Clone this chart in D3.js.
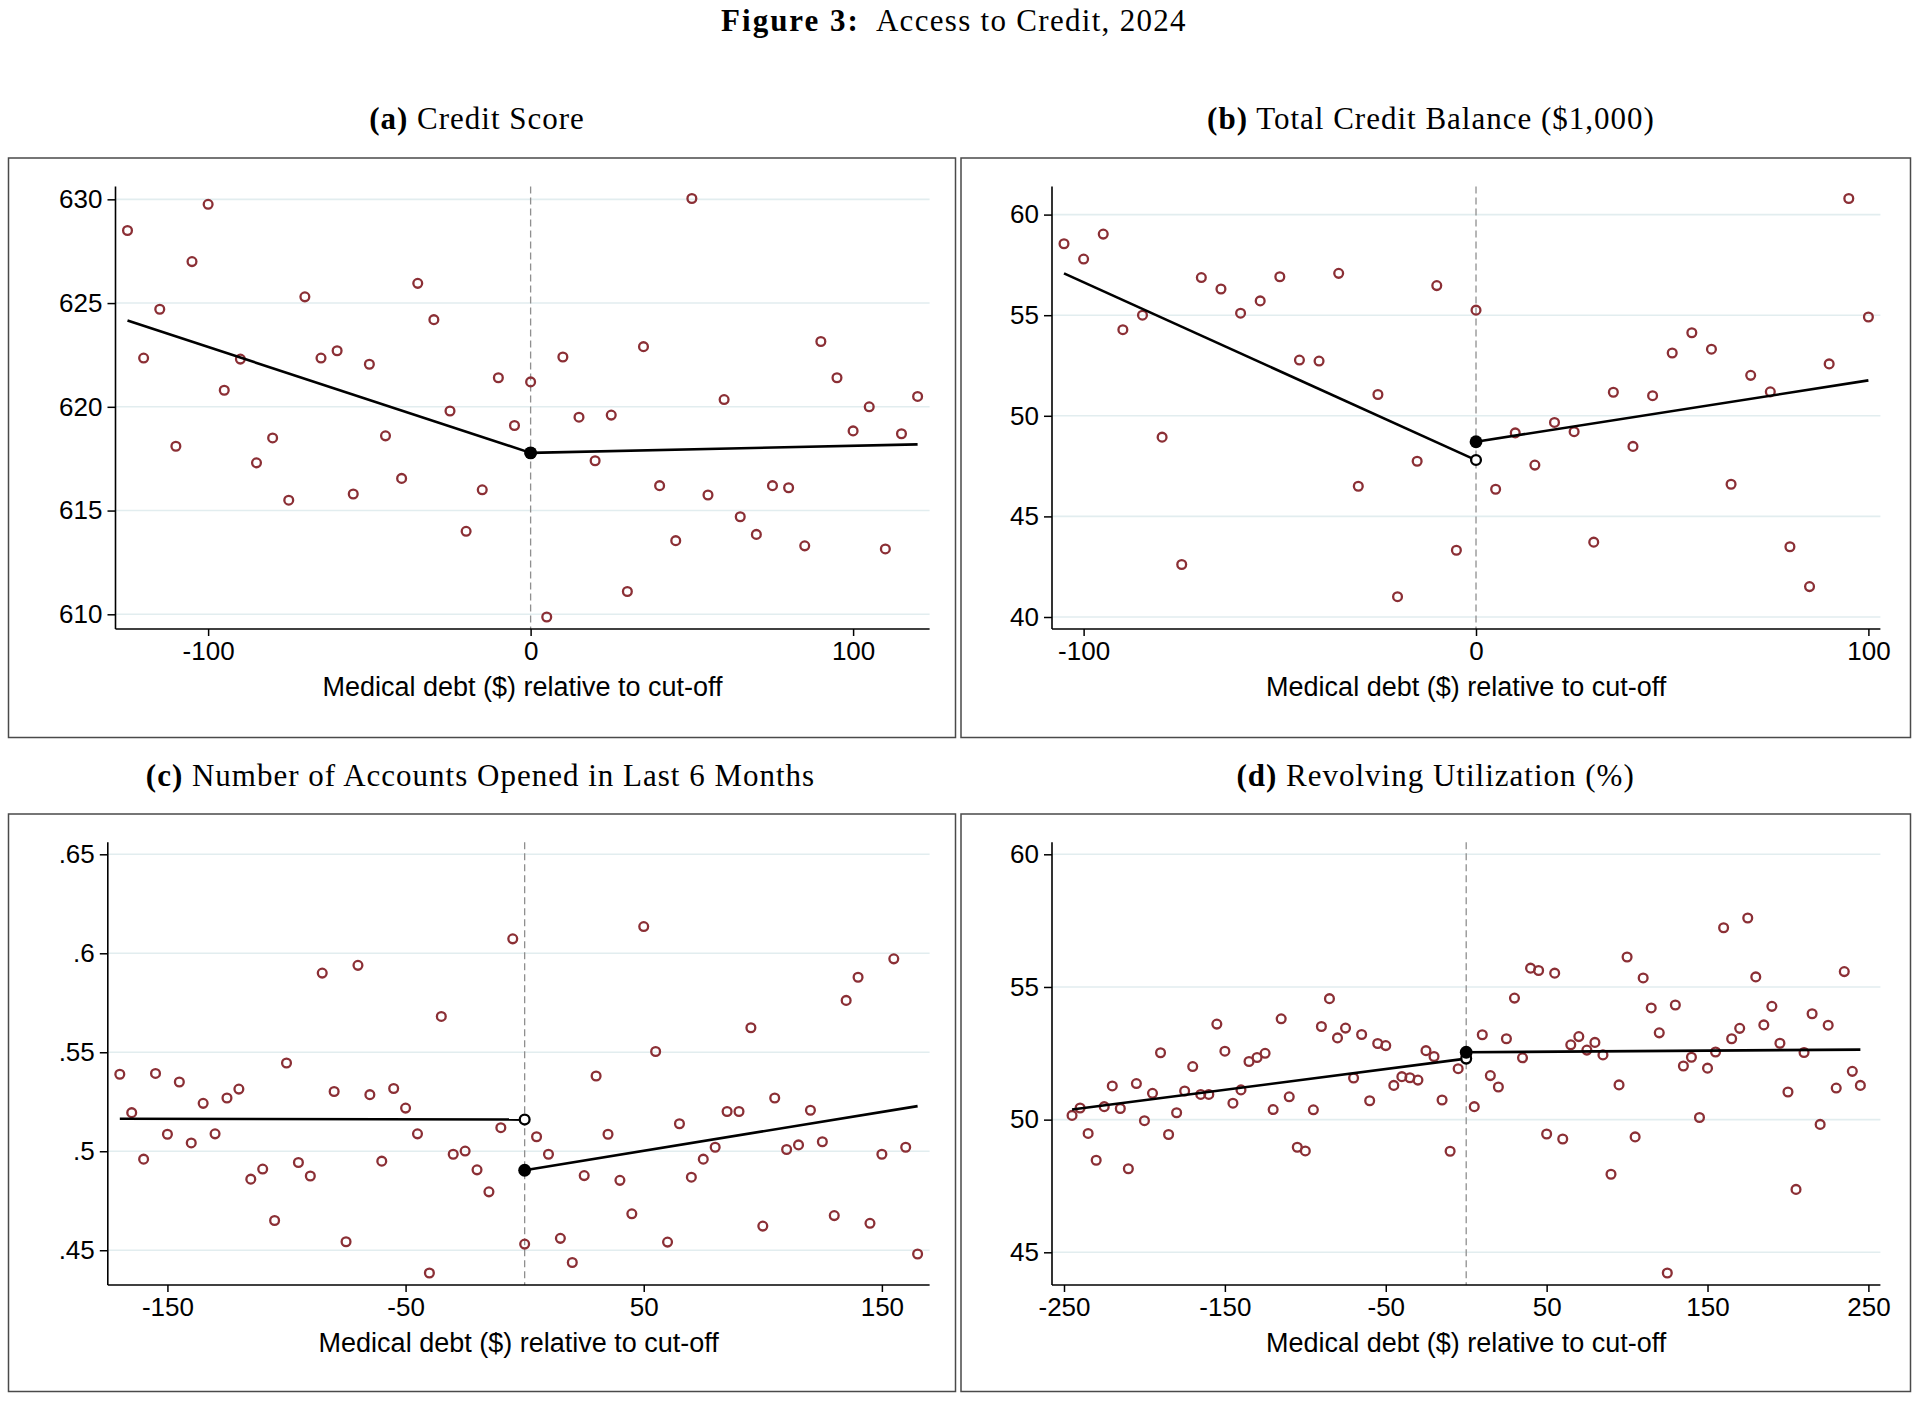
<!DOCTYPE html>
<html>
<head>
<meta charset="utf-8">
<script src="https://cdn.jsdelivr.net/npm/d3@7"></script>
<style>
  body { margin: 0; background: #fff; }
  svg { display: block; }
</style>
</head>
<body>
<div id="container"></div>
<script>
  // ---- data ----
  // (a) credit score
  const binsA = [-125, -120, -115, -110, -105, -100, -95, -90, -85, -80, -75, -70, -65, -60, -55, -50, -45, -40, -35, -30, -25, -20, -15, -10, -5,
    0, 5, 10, 15, 20, 25, 30, 35, 40, 45, 50, 55, 60, 65, 70, 75, 80, 85, 90, 95, 100, 105, 110, 115, 120];
  const scoreA = [628.5, 622.35, 624.7, 618.1, 627.0, 629.76, 620.8, 622.3, 617.3, 618.5, 615.5, 625.3, 622.35, 622.7, 615.8, 622.05, 618.6, 616.55, 625.95, 624.2, 619.8, 614.0, 616.0, 621.4, 619.1,
    621.2, 609.87, 622.4, 619.5, 617.4, 619.6, 611.1, 622.9, 616.2, 613.55, 630.04, 615.75, 620.35, 614.7, 613.85, 616.2, 616.1, 613.3, 623.15, 621.4, 618.84, 620.0, 613.15, 618.7, 620.5];
  const fitA = { left: [[-125, 624.16], [0, 617.78]], right: [[0, 617.78], [120, 618.19]] };
  const xTicksA = [-100, 0, 100];
  const yTicksA = [610, 615, 620, 625, 630];

  // (b) total credit balance ($1,000)
  const binsB = [-105, -100, -95, -90, -85, -80, -75, -70, -65, -60, -55, -50, -45, -40, -35, -30, -25, -20, -15, -10, -5,
    0, 5, 10, 15, 20, 25, 30, 35, 40, 45, 50, 55, 60, 65, 70, 75, 80, 85, 90, 95, 100];
  const balanceB = [58.55, 57.79, 59.03, 54.28, 55.0, 48.94, 42.61, 56.87, 56.3, 55.1, 55.71, 56.91, 52.77, 52.72, 57.08, 46.5, 51.06, 41.01, 47.74, 56.47, 43.32,
    55.25, 46.35, 49.15, 47.55, 49.67, 49.21, 43.72, 51.17, 48.48, 51.0, 53.12, 54.13, 53.31, 46.6, 52.01, 51.19, 43.49, 41.51, 52.58, 60.8, 54.91];
  const fitB = { left: [[-105, 57.08], [0, 47.8]], right: [[0, 48.71], [100, 51.76]] };
  const xTicksB = [-100, 0, 100];
  const yTicksB = [40, 45, 50, 55, 60];

  // (c) number of accounts opened in last 6 months
  const binsC = [-170, -165, -160, -155, -150, -145, -140, -135, -130, -125, -120, -115, -110, -105, -100, -95, -90, -85, -80, -75, -70, -65, -60, -55, -50, -45, -40, -35, -30, -25, -20, -15, -10, -5,
    0, 5, 10, 15, 20, 25, 30, 35, 40, 45, 50, 55, 60, 65, 70, 75, 80, 85, 90, 95, 100, 105, 110, 115, 120, 125, 130, 135, 140, 145, 150, 155, 160, 165];
  const accountsC = [0.5389, 0.5195, 0.4960, 0.5393, 0.5086, 0.5350, 0.5042, 0.5242, 0.5088, 0.5269, 0.5314, 0.4859, 0.4910, 0.4650, 0.5446, 0.4943, 0.4875, 0.5900, 0.5302, 0.4543, 0.5939, 0.5286, 0.4950, 0.5317, 0.5218, 0.5088, 0.4385, 0.5681, 0.4985, 0.5001, 0.4906, 0.4795, 0.5119, 0.6073,
    0.4531, 0.5073, 0.4985, 0.4560, 0.4438, 0.4877, 0.5380, 0.5086, 0.4853, 0.4684, 0.6135, 0.5504, 0.4541, 0.5139, 0.4869, 0.4960, 0.5020, 0.5201, 0.5201, 0.5624, 0.4622, 0.5269, 0.5009, 0.5032, 0.5207, 0.5048, 0.4675, 0.5762, 0.5879, 0.4636, 0.4985, 0.5972, 0.5020, 0.4481];
  const fitC = { left: [[-170, 0.5164], [0, 0.516]], right: [[0, 0.4904], [165, 0.5228]] };
  const xTicksC = [-150, -50, 50, 150];
  const yTicksC = [0.45, 0.5, 0.55, 0.6, 0.65];

  // (d) revolving utilization (%)
  const binsD = [-245, -240, -235, -230, -225, -220, -215, -210, -205, -200, -195, -190, -185, -180, -175, -170, -165, -160, -155, -150,
    -145, -140, -135, -130, -125, -120, -115, -110, -105, -100, -95, -90, -85, -80, -75, -70, -65, -60, -55, -50,
    -45, -40, -35, -30, -25, -20, -15, -10, -5,
    0, 5, 10, 15, 20, 25, 30, 35, 40, 45, 50, 55, 60, 65, 70, 75, 80, 85, 90, 95, 100,
    105, 110, 115, 120, 125, 130, 135, 140, 145, 150, 155, 160, 165, 170, 175, 180, 185, 190, 195, 200,
    205, 210, 215, 220, 225, 230, 235, 240, 245];
  const utilD = [50.16, 50.44, 49.48, 48.47, 50.49, 51.27, 50.42, 48.15, 51.36, 49.96, 50.99, 52.52, 49.44, 50.26, 51.08, 52.0, 50.95, 50.95, 53.6, 52.58,
    50.62, 51.12, 52.19, 52.34, 52.5, 50.38, 53.8, 50.86, 48.96, 48.82, 50.37, 53.51, 54.56, 53.08, 53.45, 51.57, 53.21, 50.71, 52.87, 52.79,
    51.29, 51.62, 51.58, 51.49, 52.6, 52.38, 50.74, 48.81, 51.92,
    52.4, 50.49, 53.2, 51.66, 51.23, 53.05, 54.58, 52.33, 55.71, 55.62, 49.46, 55.52, 49.27, 52.82, 53.13, 52.62, 52.91, 52.44, 47.94, 51.31, 56.13,
    49.35, 55.34, 54.21, 53.27, 44.22, 54.32, 52.02, 52.35, 50.08, 51.94, 52.55, 57.23, 53.05, 53.44, 57.6, 55.38, 53.57, 54.27, 52.88, 51.04,
    47.37, 52.53, 53.99, 49.82, 53.56, 51.19, 55.58, 51.82, 51.29];
  const fitD = { left: [[-245, 50.38], [0, 52.3]], right: [[0, 52.54], [245, 52.64]] };
  const xTicksD = [-250, -150, -50, 50, 150, 250];
  const yTicksD = [45, 50, 55, 60];

  const panelTitles = ["Credit Score", "Total Credit Balance ($1,000)", "Number of Accounts Opened in Last 6 Months", "Revolving Utilization (%)"];
  const xTitle = "Medical debt ($) relative to cut-off";

  // ---- layout ----
  const serif = "'Liberation Serif', 'Times New Roman', serif";
  const sans = "'Liberation Sans', Arial, Helvetica, sans-serif";
  const dotColor = "#8b2f35";
  const pad = 12; // stata keeps ~12px between data and plot edge

  const panels = [
    { label: "(a)", title: panelTitles[0], bins: binsA, values: scoreA, fit: fitA, xTicks: xTicksA, yTicks: yTicksA,
      frame: [8.5, 158, 955.5, 737.5], plot: [115.5, 186.5, 929.6, 629], titleX: 477, titleY: 129 },
    { label: "(b)", title: panelTitles[1], bins: binsB, values: balanceB, fit: fitB, xTicks: xTicksB, yTicks: yTicksB,
      frame: [961, 158, 1910.5, 737.5], plot: [1052, 186.5, 1880.4, 629], titleX: 1431, titleY: 129 },
    { label: "(c)", title: panelTitles[2], bins: binsC, values: accountsC, fit: fitC, xTicks: xTicksC, yTicks: yTicksC,
      frame: [8.5, 814, 955.5, 1391.5], plot: [107.8, 842.3, 929.6, 1285], titleX: 480.5, titleY: 786 },
    { label: "(d)", title: panelTitles[3], bins: binsD, values: utilD, fit: fitD, xTicks: xTicksD, yTicks: yTicksD,
      frame: [961, 814, 1910.5, 1391.5], plot: [1052, 842.3, 1880.4, 1285], titleX: 1435.6, titleY: 786 }
  ];

  const svg = d3.select("#container")
    .append("svg")
    .attr("width", 1920)
    .attr("height", 1402);

  svg.append("rect").attr("width", 1920).attr("height", 1402).attr("fill", "#fff");

  // main title
  const main = svg.append("text")
    .attr("x", 954).attr("y", 31)
    .attr("text-anchor", "middle")
    .attr("font-family", serif)
    .attr("font-size", 31)
    .attr("letter-spacing", 1.3)
    .attr("fill", "#000");
  main.append("tspan").attr("font-weight", "bold").attr("letter-spacing", 2).text("Figure 3:");
  main.append("tspan").attr("dx", 16).text("Access to Credit, 2024");

  const yFmt = d => String(d).replace(/^0\./, ".");

  panels.forEach(p => {
    const g = svg.append("g");
    const [x0, y0, x1, y1] = p.plot;

    // graph border
    g.append("rect")
      .attr("x", p.frame[0]).attr("y", p.frame[1])
      .attr("width", p.frame[2] - p.frame[0])
      .attr("height", p.frame[3] - p.frame[1])
      .attr("fill", "none")
      .attr("stroke", "#4a4a4a")
      .attr("stroke-width", 1.5);

    // sub-caption
    const t = svg.append("text")
      .attr("x", p.titleX).attr("y", p.titleY)
      .attr("text-anchor", "middle")
      .attr("font-family", serif)
      .attr("font-size", 31)
      .attr("letter-spacing", 1);
    t.append("tspan").attr("font-weight", "bold").text(p.label);
    t.append("tspan").text(" " + p.title);

    // domain = data + ticks, like stata does
    const x = d3.scaleLinear()
      .domain(d3.extent([...p.bins, ...p.xTicks]))
      .range([x0 + pad, x1 - pad]);
    const y = d3.scaleLinear()
      .domain(d3.extent([...p.values, ...p.yTicks]))
      .range([y1 - pad, y0 + pad]);

    // gridlines
    g.append("g").selectAll("line")
      .data(p.yTicks)
      .join("line")
      .attr("x1", x0).attr("x2", x1)
      .attr("y1", d => y(d)).attr("y2", d => y(d))
      .attr("stroke", "#e2edef")
      .attr("stroke-width", 1.6);

    // cut-off
    g.append("line")
      .attr("x1", x(0)).attr("x2", x(0))
      .attr("y1", y0).attr("y2", y1)
      .attr("stroke", "#8f8f8f")
      .attr("stroke-width", 1.3)
      .attr("stroke-dasharray", "7,4");

    // binned means
    g.append("g").selectAll("circle")
      .data(p.bins.map((b, i) => [b, p.values[i]]))
      .join("circle")
      .attr("cx", d => x(d[0]))
      .attr("cy", d => y(d[1]))
      .attr("r", 4.4)
      .attr("fill", "none")
      .attr("stroke", dotColor)
      .attr("stroke-width", 2.3);

    // linear fits either side
    const line = d3.line().x(d => x(d[0])).y(d => y(d[1]));
    [p.fit.left, p.fit.right].forEach(seg => {
      g.append("path")
        .attr("d", line(seg))
        .attr("fill", "none")
        .attr("stroke", "#000")
        .attr("stroke-width", 2.6);
    });

    // left limit hollow, right limit filled
    const lEnd = p.fit.left[p.fit.left.length - 1];
    const rStart = p.fit.right[0];
    g.append("circle")
      .attr("cx", x(lEnd[0])).attr("cy", y(lEnd[1]))
      .attr("r", 4.9)
      .attr("fill", "#fff")
      .attr("stroke", "#000")
      .attr("stroke-width", 2.3);
    g.append("circle")
      .attr("cx", x(rStart[0])).attr("cy", y(rStart[1]))
      .attr("r", 6.4)
      .attr("fill", "#000");

    // axes
    const xAxis = g.append("g")
      .attr("transform", `translate(0, ${y1})`)
      .call(d3.axisBottom(x).tickValues(p.xTicks).tickSize(7).tickSizeOuter(0).tickPadding(6).tickFormat(d => d));
    const yAxis = g.append("g")
      .attr("transform", `translate(${x0}, 0)`)
      .call(d3.axisLeft(y).tickValues(p.yTicks).tickSize(8).tickSizeOuter(0).tickPadding(5).tickFormat(yFmt));

    [xAxis, yAxis].forEach(ax => {
      ax.select(".domain").remove(); // stata axis runs the full plot region, drawn below
      ax.selectAll(".tick line").attr("stroke", "#000").attr("stroke-width", 1.5);
      ax.selectAll(".tick text")
        .attr("font-family", sans)
        .attr("font-size", 26)
        .attr("fill", "#000");
    });

    g.append("line")
      .attr("x1", x0).attr("x2", x1).attr("y1", y1).attr("y2", y1)
      .attr("stroke", "#000").attr("stroke-width", 1.6);
    g.append("line")
      .attr("x1", x0).attr("x2", x0).attr("y1", y0).attr("y2", y1)
      .attr("stroke", "#000").attr("stroke-width", 1.6);

    // x title
    g.append("text")
      .attr("x", (x0 + x1) / 2)
      .attr("y", y1 + 67)
      .attr("text-anchor", "middle")
      .attr("font-family", sans)
      .attr("font-size", 27)
      .attr("fill", "#000")
      .text(xTitle);
  });
</script>
</body>
</html>
